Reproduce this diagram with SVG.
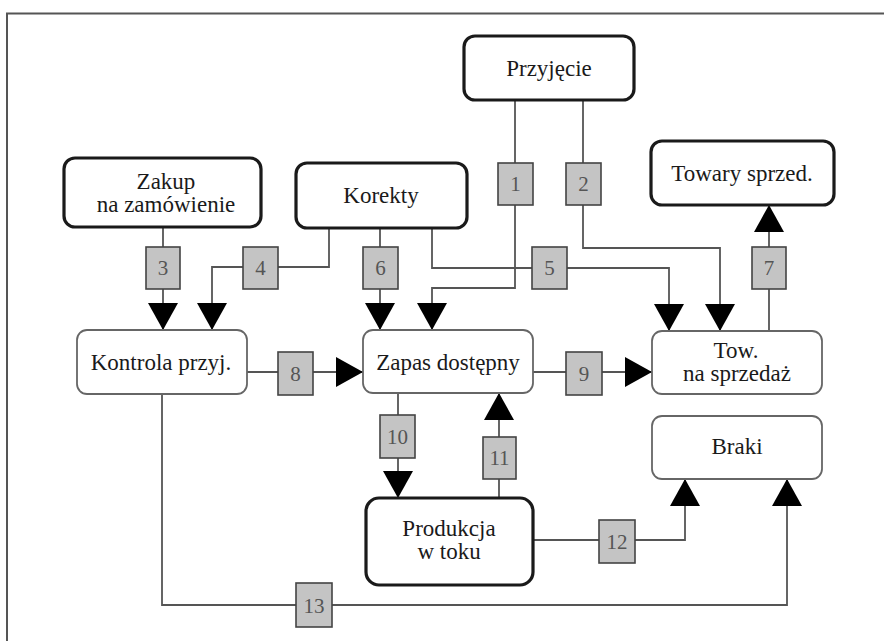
<svg xmlns="http://www.w3.org/2000/svg" width="884" height="641" viewBox="0 0 884 641">
<style>
.bold{fill:#fff;stroke:#1a1a1a;stroke-width:3.2}
.thin{fill:#fff;stroke:#666;stroke-width:1.8}
.t{font-family:"Liberation Serif","Times New Roman",serif;font-size:23px;fill:#1a1a1a;text-anchor:middle}
.ln{fill:none;stroke:#555;stroke-width:1.8}
.lb{fill:#c4c4c4;stroke:#444;stroke-width:1.6}
.n{font-family:"Liberation Serif","Times New Roman",serif;font-size:21px;fill:#555;text-anchor:middle}
.frame{stroke:#555;stroke-width:2;fill:none}
</style>
<defs>
<marker id="ah" viewBox="0 0 27 30" refX="27" refY="15" markerWidth="27" markerHeight="30" markerUnits="userSpaceOnUse" orient="auto">
<path d="M0,0 L27,15 L0,30 z" fill="#000"/>
</marker>
</defs>
<rect width="884" height="641" fill="#fff"/>
<path class="frame" d="M7,641 V13.5 H884"/>

<g id="connectors">
<g id="c1"><path class="ln" marker-end="url(#ah)" d="M515,100 V288 H432 V330"/><rect class="lb" x="498" y="163" width="35" height="42"/><text class="n" x="515.5" y="191">1</text></g>
<g id="c2"><path class="ln" marker-end="url(#ah)" d="M583,100 V248 H720 V331"/><rect class="lb" x="566" y="163" width="35" height="42"/><text class="n" x="583.5" y="191">2</text></g>
<g id="c3"><path class="ln" marker-end="url(#ah)" d="M163,227 V330"/><rect class="lb" x="146" y="247" width="34" height="42"/><text class="n" x="163" y="275">3</text></g>
<g id="c4"><path class="ln" marker-end="url(#ah)" d="M329,228 V267 H212 V330"/><rect class="lb" x="243" y="247" width="35" height="42"/><text class="n" x="260.5" y="275">4</text></g>
<g id="c5"><path class="ln" marker-end="url(#ah)" d="M432,228 V268 H669 V331"/><rect class="lb" x="532" y="247" width="35" height="42"/><text class="n" x="549.5" y="275">5</text></g>
<g id="c6"><path class="ln" marker-end="url(#ah)" d="M380,228 V330"/><rect class="lb" x="363" y="247" width="35" height="42"/><text class="n" x="380.5" y="275">6</text></g>
<g id="c7"><path class="ln" marker-end="url(#ah)" d="M769,331 V205"/><rect class="lb" x="752" y="247" width="34" height="42"/><text class="n" x="769" y="275">7</text></g>
<g id="c8"><path class="ln" marker-end="url(#ah)" d="M247,372 H363"/><rect class="lb" x="278" y="352" width="35" height="43"/><text class="n" x="295.5" y="381">8</text></g>
<g id="c9"><path class="ln" marker-end="url(#ah)" d="M533,372 H652"/><rect class="lb" x="566" y="352" width="36" height="43"/><text class="n" x="584" y="381">9</text></g>
<g id="c10"><path class="ln" marker-end="url(#ah)" d="M398,393 V498"/><rect class="lb" x="380" y="415" width="35" height="43"/><text class="n" x="397.5" y="444">10</text></g>
<g id="c11"><path class="ln" marker-end="url(#ah)" d="M499,498 V393"/><rect class="lb" x="483" y="437" width="33" height="42"/><text class="n" x="499.5" y="465">11</text></g>
<g id="c12"><path class="ln" marker-end="url(#ah)" d="M533,540 H685 V479"/><rect class="lb" x="599" y="520" width="36" height="43"/><text class="n" x="617" y="549">12</text></g>
<g id="c13"><path class="ln" marker-end="url(#ah)" d="M162,394 V605 H787 V479"/><rect class="lb" x="296" y="583" width="36" height="44"/><text class="n" x="314" y="613">13</text></g>
</g>

<g id="przyjecie"><rect class="bold" x="464" y="36" width="170" height="64" rx="11"/><text class="t" x="549" y="76">Przyjęcie</text></g>
<g id="zakup"><rect class="bold" x="64" y="158" width="197" height="69" rx="11"/><text class="t" x="166" y="189">Zakup</text><text class="t" x="166" y="212">na zamówienie</text></g>
<g id="korekty"><rect class="bold" x="296" y="163" width="171" height="65" rx="11"/><text class="t" x="381" y="203">Korekty</text></g>
<g id="towary"><rect class="bold" x="651" y="141" width="183" height="64" rx="11"/><text class="t" x="742" y="181">Towary sprzed.</text></g>
<g id="kontrola"><rect class="thin" x="77" y="330" width="170" height="64" rx="10"/><text class="t" x="161" y="370">Kontrola przyj.</text></g>
<g id="zapas"><rect class="thin" x="363" y="330" width="170" height="63" rx="10"/><text class="t" x="448" y="370">Zapas dostępny</text></g>
<g id="tow"><rect class="thin" x="652" y="331" width="170" height="63" rx="10"/><text class="t" x="736" y="358">Tow.</text><text class="t" x="737" y="381">na sprzedaż</text></g>
<g id="braki"><rect class="thin" x="652" y="416" width="170" height="63" rx="10"/><text class="t" x="737" y="454">Braki</text></g>
<g id="produkcja"><rect class="bold" x="366" y="498" width="167" height="87" rx="13"/><text class="t" x="449" y="536">Produkcja</text><text class="t" x="449" y="559">w toku</text></g>
</svg>
